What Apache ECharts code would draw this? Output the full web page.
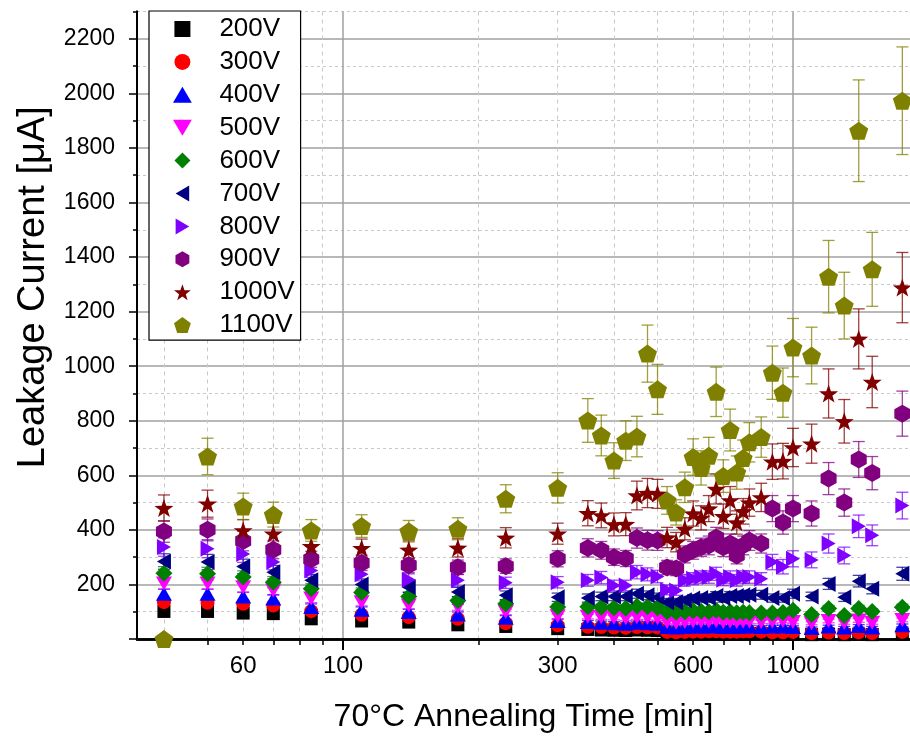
<!DOCTYPE html>
<html>
<head>
<meta charset="utf-8">
<script src="https://cdn.jsdelivr.net/npm/echarts@6/dist/echarts.min.js"></script>
<style>html,body{margin:0;padding:0;background:#fff}#c{width:910px;height:737px}</style>
</head>
<body>
<div id="c"></div>
<script>
// ---- data ----
const times = [40, 50, 60, 70, 85, 110, 140, 180, 230, 300,
  350, 375, 400, 425, 450, 475, 500, 525, 550, 575, 600, 625, 650, 675, 700, 725, 750, 775, 800,
  850, 900, 950, 1000, 1100, 1200, 1300, 1400, 1500, 1750];

const v200 = [101, 101, 95, 93, 74, 66, 62, 52, 46, 38, 35, 33, 32, 31, 33, 32, 31, 18, 17, 18, 19, 19, 20, 20, 19, 19, 19, 19, 20, 19, 18, 18, 18, 16, 17, 16, 17, 16, 18];
const v300 = [135, 133, 129, 123, 102, 89, 80, 74, 58, 50, 45, 44, 42, 41, 44, 43, 42, 26, 25, 26, 27, 27, 28, 28, 27, 27, 27, 28, 28, 27, 25, 25, 26, 22, 24, 22, 25, 22, 26];
const v400 = [166, 166, 156, 148, 117, 107, 99, 90, 78, 66, 62, 60, 58, 56, 60, 58, 56, 44, 42, 44, 46, 46, 46, 48, 44, 46, 44, 46, 46, 44, 46, 46, 44, 40, 46, 42, 48, 42, 50];
const v500 = [203, 203, 190, 178, 148, 135, 123, 117, 99, 83, 82, 80, 78, 76, 80, 78, 76, 62, 60, 62, 64, 64, 64, 66, 62, 64, 62, 64, 64, 62, 64, 66, 62, 58, 66, 60, 68, 60, 70];
const v600 = [241, 239, 227, 208, 184, 170, 156, 141, 129, 117, 118, 116, 115, 113, 120, 118, 115, 100, 98, 100, 104, 102, 100, 105, 98, 100, 96, 98, 96, 95, 95, 97, 105, 90, 112, 86, 112, 101, 116];
const v700 = [284, 282, 266, 245, 215, 200, 190, 172, 160, 153, 150, 156, 156, 156, 166, 160, 153, 135, 135, 142, 148, 150, 150, 158, 150, 158, 158, 160, 162, 162, 150, 150, 166, 156, 202, 153, 212, 184, 239];
const v800 = [337, 331, 312, 282, 251, 237, 217, 215, 206, 208, 215, 225, 196, 196, 245, 237, 229, 180, 178, 215, 221, 227, 227, 239, 217, 227, 215, 227, 227, 221, 282, 265, 294, 290, 350, 306, 413, 380, 489];
const v900 = [394, 400, 359, 327, 292, 279, 270, 263, 267, 294, 334, 325, 300, 295, 370, 362, 361, 262, 258, 310, 325, 336, 343, 372, 336, 350, 306, 343, 361, 350, 478, 427, 478, 460, 588, 500, 658, 608, 826];
const v1000 = [480, 496, 398, 386, 340, 333, 327, 334, 371, 386, 461, 453, 420, 421, 526, 535, 532, 372, 355, 404, 460, 444, 478, 550, 450, 508, 427, 468, 500, 519, 650, 652, 702, 716, 900, 798, 1100, 942, 1288];
const v1100 = [0, 669, 486, 456, 398, 414, 395, 404, 514, 554, 801, 746, 654, 727, 742, 1046, 915, 508, 464, 556, 667, 627, 672, 906, 597, 766, 610, 663, 721, 740, 976, 903, 1068, 1039, 1328, 1222, 1863, 1355, 1973];

const voltages = ['200V', '300V', '400V', '500V', '600V', '700V', '800V', '900V', '1000V', '1100V'];
const seriesValues = [v200, v300, v400, v500, v600, v700, v800, v900, v1000, v1100];
const relErr = 0.1; // relative measurement uncertainty shown by error bars

// axis ticks / labels
const xMinorTicks = [40, 50, 60, 70, 80, 90, 200, 300, 400, 500, 600, 700, 800, 900];
const xMajorTicks = [100, 1000];
const xLabels = [60, 100, 300, 600, 1000];
const yMajorTicks = [0, 200, 400, 600, 800, 1000, 1200, 1400, 1600, 1800, 2000, 2200];
const yMinorTicks = [100, 300, 500, 700, 900, 1100, 1300, 1500, 1700, 1900, 2100, 2300];
const yLabels = [200, 400, 600, 800, 1000, 1200, 1400, 1600, 1800, 2000, 2200];

// ---- styles ----
const colors = ['#000000', '#ff0000', '#0000ff', '#ff00ff', '#008000', '#000080', '#8000ff', '#800080', '#800000', '#808000'];
const rectPath = 'path://M-10,-10L10,-10L10,10L-10,10Z';
const upPath = 'path://M0,-9L10,8L-10,8Z';
const downPath = 'path://M-10,-8L10,-8L0,9Z';
const diamondPath = 'path://M0,-10L10,0L0,10L-10,0Z';
const leftPath = 'path://M-9,0L8,-10L8,10Z';
const rightPath = 'path://M9,0L-8,-10L-8,10Z';
const hexPath = 'path://M0,-10L8.66,-5L8.66,5L0,10L-8.66,5L-8.66,-5Z';
const starPath = 'path://M0,-10L2.35,-3.24L9.51,-3.09L3.8,1.24L5.88,8.09L0,4L-5.88,8.09L-3.8,1.24L-9.51,-3.09L-2.35,-3.24Z';
const pentPath = 'path://M0,-10L9.51,-3.09L5.88,8.09L-5.88,8.09L-9.51,-3.09Z';
const symbols = [rectPath, 'circle', upPath, downPath, diamondPath, leftPath, rightPath, hexPath, starPath, pentPath];
const sizes = [[13, 13], [14, 14], [16, 14], [16, 14], [17, 17], [14, 16], [14, 16], [16, 18], [19, 18], [19, 18]];
const FONT = 'Arial, "Liberation Sans", sans-serif';

const series = [];
voltages.forEach((name, i) => {
  const vals = seriesValues[i];
  series.push({
    type: 'scatter', name: name, xAxisIndex: 0, yAxisIndex: 0,
    data: times.map((t, k) => [t, vals[k]]),
    symbol: symbols[i], symbolSize: sizes[i],
    itemStyle: { color: colors[i], opacity: 1 },
    z: 3, animation: false
  });
  const col = colors[i];
  series.push({
    type: 'custom', name: name + ' error', xAxisIndex: 0, yAxisIndex: 0,
    data: times.map((t, k) => [t, vals[k], vals[k] * relErr]),
    encode: { x: 0, y: 1 },
    z: 3, animation: false, silent: true,
    renderItem: function (params, api) {
      const t = api.value(0), v = api.value(1), e = api.value(2);
      if (e <= 0) return null;
      const top = api.coord([t, v + e]);
      const bot = api.coord([t, Math.max(v - e, 0)]);
      const w = 6;
      const st = { stroke: col, lineWidth: 1.3, opacity: 0.75 };
      return {
        type: 'group', children: [
          { type: 'line', shape: { x1: top[0], y1: top[1], x2: bot[0], y2: bot[1] }, style: st },
          { type: 'line', shape: { x1: top[0] - w, y1: top[1], x2: top[0] + w, y2: top[1] }, style: st },
          { type: 'line', shape: { x1: bot[0] - w, y1: bot[1], x2: bot[0] + w, y2: bot[1] }, style: st }
        ]
      };
    }
  });
});

const chart = echarts.init(document.getElementById('c'), null, { renderer: 'canvas' });
chart.setOption({
  animation: false,
  backgroundColor: '#fff',
  textStyle: { fontFamily: FONT },
  grid: { left: 137, right: 0, top: 11.5, bottom: 98, containLabel: false, outerBoundsMode: 'none' },
  legend: {
    data: voltages, orient: 'vertical', left: 149, top: 11,
    padding: [5, 6, 2, 24], itemGap: 6.9, itemWidth: 64, itemHeight: 16,
    borderColor: '#000', borderWidth: 1.2, backgroundColor: '#fff',
    textStyle: { fontSize: 26, lineHeight: 26, color: '#000', fontFamily: FONT },
    selectedMode: false, z: 10
  },
  xAxis: [
    {
      type: 'log', logBase: 10, min: 34.85, max: 1820, position: 'bottom',
      axisLine: { show: true, lineStyle: { color: '#000', width: 2.5 } },
      axisTick: { show: true, customValues: xMinorTicks, length: 6, lineStyle: { color: '#000', width: 1.5 } },
      axisLabel: { show: false },
      splitLine: { show: true, lineStyle: { color: '#c8c8c8', type: [4, 4], width: 1 } }
    },
    {
      type: 'log', logBase: 10, min: 34.85, max: 1820, position: 'bottom',
      axisLine: { show: true, lineStyle: { color: '#000', width: 2.5 } },
      axisTick: { show: true, customValues: xMajorTicks, length: 11, lineStyle: { color: '#000', width: 2 } },
      axisLabel: { show: true, customValues: xLabels, fontSize: 24, margin: 15, color: '#000', fontFamily: FONT, formatter: v => String(Math.round(v)) },
      splitLine: { show: true, lineStyle: { color: '#a0a0a0', width: 1.5 } },
      name: '70°C Annealing Time [min]', nameLocation: 'middle', nameGap: 62,
      nameTextStyle: { fontSize: 32, color: '#000', fontFamily: FONT }
    }
  ],
  yAxis: [
    {
      type: 'value', min: 0, max: 2300, position: 'left',
      axisLine: { show: true, lineStyle: { color: '#000', width: 2 } },
      axisTick: { show: true, customValues: yMinorTicks, length: 4, lineStyle: { color: '#000', width: 1.5 } },
      axisLabel: { show: false },
      splitLine: { show: true, lineStyle: { color: '#c8c8c8', type: [3, 3], width: 1 } }
    },
    {
      type: 'value', min: 0, max: 2300, position: 'left',
      axisLine: { show: true, lineStyle: { color: '#000', width: 2 } },
      axisTick: { show: true, customValues: yMajorTicks, length: 8, lineStyle: { color: '#000', width: 1.5 } },
      axisLabel: { show: true, customValues: yLabels, fontSize: 23, margin: 22, color: '#000', fontFamily: FONT, formatter: v => String(v) },
      splitLine: { show: true, lineStyle: { color: '#a0a0a0', width: 1.5 } },
      name: 'Leakage Current [μA]', nameLocation: 'middle', nameGap: 78,
      nameTextStyle: { fontSize: 38, color: '#000', fontFamily: FONT, padding: [0, 0, 0, 76] }
    }
  ],
  series: series
});
</script>
</body>
</html>
